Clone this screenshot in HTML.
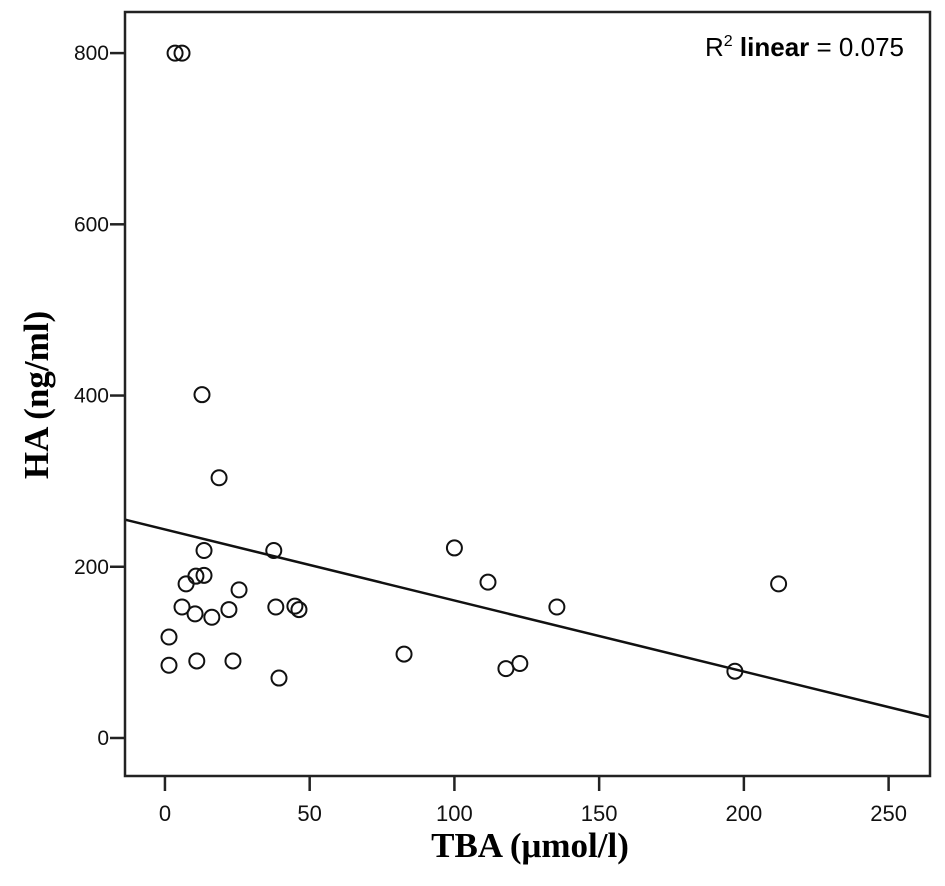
<!DOCTYPE html>
<html><head><meta charset="utf-8"><style>
body{margin:0;background:#fff;}
svg{display:block;font-family:"Liberation Sans",sans-serif;}
</style></head><body>
<svg id="chart" width="945" height="886">
<rect x="0" y="0" width="945" height="886" fill="#fff"/>
<g id="marks"></g>
<g id="axes"></g>
<text x="530" y="857" text-anchor="middle" font-family="'Liberation Serif',serif" font-weight="bold" font-size="35">TBA (μmol/l)</text>
<text transform="translate(48,395) rotate(-90)" text-anchor="middle" font-family="'Liberation Serif',serif" font-weight="bold" font-size="35">HA (ng/ml)</text>
<text x="904" y="56" text-anchor="end" font-size="26">R<tspan dy="-10" font-size="16">2</tspan><tspan dy="10" font-weight="bold"> linear</tspan> = 0.075</text>
</svg>
<script>
const xs=[3.5,5.9,12.8,18.7,37.6,13.5,100,111.6,212,7.3,10.7,13.5,25.6,5.9,10.4,16.2,22.1,38.3,44.9,46.3,135.4,1.4,1.4,11,23.5,39.4,82.6,117.8,122.6,196.9];
const ys=[800,800,401,304,219,219,222,182,180,180,189,190,173,153,145,141,150,153,154,150,153,118,85,90,90,70,98,81,87,78];
const xTicks=[0,50,100,150,200,250];
const yTicks=[0,200,400,600,800];
const fitIntercept=243.6, fitSlope=-0.83;
const L=125,R=930,T=12,B=776;
const xMin=-13.8,xMax=264.3,yMin=-44.4,yMax=848;
const sx=v=>L+(v-xMin)/(xMax-xMin)*(R-L);
const sy=v=>B-(v-yMin)/(yMax-yMin)*(B-T);
const NS="http://www.w3.org/2000/svg";
const marks=document.getElementById('marks'),axes=document.getElementById('axes');
function mk(tag,attrs,parent){const e=document.createElementNS(NS,tag);for(const k in attrs)e.setAttribute(k,attrs[k]);parent.appendChild(e);return e;}
const frame=mk('rect',{x:L,y:T,width:R-L,height:B-T,fill:'none',stroke:'#222','stroke-width':2.5},axes);


xTicks.forEach(t=>{
 const l=mk('line',{x1:sx(t),x2:sx(t),y1:B,y2:B+15,stroke:'#222','stroke-width':2.5},axes);
 
 
 const tx=mk('text',{x:sx(t),y:B+45,'text-anchor':'middle','font-size':22,fill:'#111'},axes);
 tx.textContent=t;
 
 
});
yTicks.forEach(t=>{
 const l=mk('line',{x1:L-15,x2:L,y1:sy(t),y2:sy(t),stroke:'#222','stroke-width':2.5},axes);
 
 
 const tx=mk('text',{x:L-16,y:sy(t)+7,'text-anchor':'end','font-size':21,fill:'#111'},axes);
 tx.textContent=t;
 
 
});
const fl=mk('line',{x1:sx(xMin),y1:sy(fitIntercept+fitSlope*xMin),x2:sx(xMax),y2:sy(fitIntercept+fitSlope*xMax),stroke:'#111','stroke-width':2.5},marks);


xs.forEach((x,i)=>{
 const c=mk('circle',{cx:sx(x),cy:sy(ys[i]),r:7.5,fill:'none',stroke:'#111','stroke-width':2},marks);
 
 
});
</script>
</body></html>
